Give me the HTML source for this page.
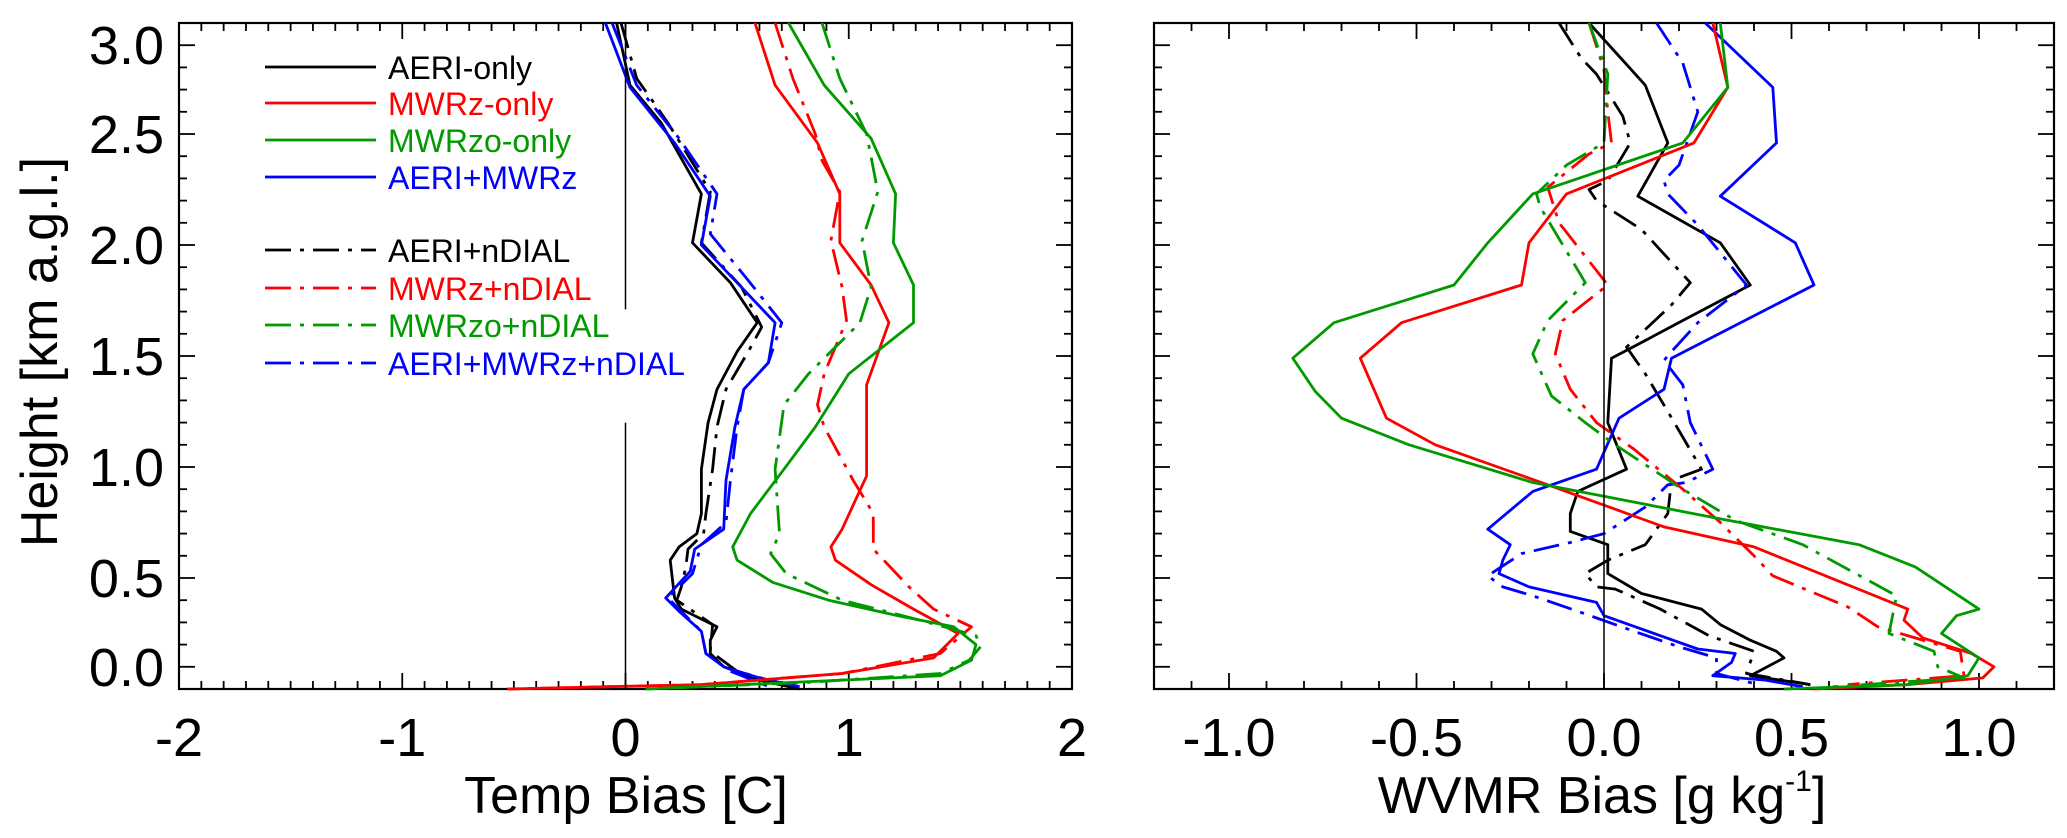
<!DOCTYPE html>
<html><head><meta charset="utf-8"><style>
html,body{margin:0;padding:0;background:#fff;}
svg{display:block;font-family:"Liberation Sans",Arial,sans-serif;}
</style></head><body>
<svg id="fig" width="2067" height="838" viewBox="0 0 2067 838" xmlns="http://www.w3.org/2000/svg"></svg>
<script>
// ---------- data (height km, bias) ----------
const hAeriT=[3.0,2.72,2.55,2.23,2.01,1.83,1.65,1.52,1.35,1.20,0.99,0.79,0.70,0.64,0.58,0.41,0.36,0.28,0.22,0.16,0.10,0.04,0.0];
const tAeri=[-0.04,0.02,0.16,0.34,0.30,0.47,0.59,0.50,0.41,0.37,0.34,0.34,0.32,0.24,0.20,0.22,0.25,0.41,0.38,0.38,0.44,0.60,0.78];
const hAeriDT=[3.0,2.75,2.55,2.24,2.01,1.81,1.63,1.52,1.35,1.18,0.99,0.79,0.70,0.63,0.55,0.46,0.40,0.29,0.17,0.08,0.0];
const tAeriD=[-0.02,0.05,0.19,0.38,0.34,0.52,0.61,0.55,0.45,0.41,0.39,0.36,0.35,0.28,0.27,0.25,0.23,0.39,0.38,0.50,0.78];
const hBlueT=[3.0,2.71,2.46,2.22,2.0,1.83,1.65,1.47,1.35,1.18,0.94,0.72,0.63,0.53,0.41,0.35,0.26,0.16,0.10,0.05,0.01];
const tBlue=[-0.09,0.02,0.22,0.38,0.34,0.50,0.67,0.64,0.53,0.49,0.45,0.44,0.31,0.29,0.18,0.24,0.34,0.36,0.44,0.60,0.78];
const hBlueDT=[3.0,2.72,2.48,2.23,2.05,1.84,1.65,1.47,1.35,1.18,0.94,0.75,0.65,0.52,0.41,0.26,0.16,0.08,0.0];
const tBlueD=[-0.06,0.05,0.24,0.41,0.38,0.55,0.70,0.64,0.53,0.50,0.47,0.45,0.34,0.30,0.19,0.34,0.36,0.47,0.67];
const hRedT=[3.0,2.72,2.46,2.23,2.01,1.82,1.65,1.37,0.96,0.72,0.64,0.58,0.47,0.36,0.25,0.14,0.07,0.02,0.0];
const tRed=[0.58,0.67,0.86,0.96,0.96,1.10,1.18,1.08,1.08,0.97,0.92,0.94,1.10,1.29,1.49,1.38,0.97,0.34,-0.53];
const hRedDT=[3.0,2.75,2.5,2.38,2.24,2.02,1.81,1.66,1.42,1.28,1.18,0.94,0.79,0.63,0.46,0.36,0.28,0.16,0.07,0.02,0.0];
const tRedD=[0.67,0.75,0.85,0.88,0.96,0.92,0.97,0.99,0.89,0.86,0.89,1.02,1.11,1.11,1.27,1.38,1.55,1.41,0.97,0.34,-0.53];
const hGrnT=[3.0,2.72,2.48,2.23,2.01,1.82,1.65,1.42,1.18,0.99,0.79,0.64,0.58,0.48,0.40,0.33,0.28,0.20,0.13,0.06,0.04,0.0];
const tGrn=[0.73,0.89,1.10,1.21,1.20,1.29,1.29,1.00,0.85,0.71,0.56,0.48,0.50,0.66,0.91,1.22,1.47,1.57,1.55,1.41,0.97,0.09];
const hGrnDT=[3.0,2.75,2.5,2.24,2.02,1.81,1.65,1.42,1.28,0.99,0.70,0.61,0.52,0.40,0.31,0.24,0.19,0.13,0.07,0.03,0.0];
const tGrnD=[0.88,0.96,1.08,1.13,1.06,1.10,1.05,0.82,0.71,0.67,0.69,0.65,0.72,0.97,1.32,1.57,1.59,1.54,1.41,0.82,0.09];

const hAeriW=[3.0,2.72,2.46,2.22,2.01,1.82,1.66,1.57,1.49,1.20,0.99,0.89,0.79,0.71,0.65,0.52,0.43,0.36,0.29,0.22,0.17,0.14,0.06,0.02];
const wAeri=[-0.04,0.11,0.17,0.09,0.31,0.39,0.21,0.11,0.02,0.01,0.06,-0.07,-0.09,-0.09,0.01,0.01,0.10,0.26,0.31,0.39,0.46,0.48,0.39,0.55];
const hAeriDW=[3.0,2.84,2.77,2.58,2.46,2.29,2.25,2.20,2.07,1.83,1.73,1.54,1.42,1.25,0.99,0.94,0.79,0.65,0.58,0.52,0.46,0.45,0.36,0.24,0.17,0.07,0.02];
const wAeriD=[-0.12,-0.06,-0.02,0.05,0.07,0.01,-0.04,-0.02,0.10,0.23,0.18,0.06,0.11,0.17,0.26,0.18,0.17,0.11,0.01,-0.05,-0.02,0.03,0.15,0.28,0.40,0.38,0.55];
const hBlueW=[3.0,2.71,2.46,2.22,2.01,1.82,1.49,1.35,1.22,0.99,0.89,0.72,0.65,0.58,0.52,0.46,0.39,0.33,0.18,0.16,0.12,0.06,0.04,0.01];
const wBlue=[0.27,0.45,0.46,0.31,0.51,0.56,0.18,0.16,0.04,-0.02,-0.19,-0.31,-0.25,-0.27,-0.28,-0.20,-0.02,0.0,0.25,0.35,0.34,0.29,0.43,0.53];
const hBlueDW=[3.0,2.82,2.60,2.36,2.29,2.23,2.09,1.82,1.65,1.52,1.48,1.37,1.20,0.99,0.93,0.92,0.82,0.70,0.66,0.61,0.51,0.46,0.42,0.35,0.26,0.19,0.14,0.07,0.02];
const wBlueD=[0.14,0.21,0.25,0.20,0.16,0.17,0.25,0.38,0.25,0.18,0.16,0.21,0.23,0.29,0.22,0.17,0.11,0.0,-0.09,-0.22,-0.31,-0.27,-0.19,-0.07,0.08,0.20,0.30,0.30,0.41];
const hRedW=[3.0,2.71,2.46,2.23,2.01,1.82,1.65,1.49,1.22,1.10,0.92,0.73,0.64,0.36,0.31,0.23,0.16,0.10,0.05,0.02,0.0];
const wRed=[0.29,0.33,0.24,-0.10,-0.20,-0.22,-0.54,-0.65,-0.58,-0.45,-0.15,0.16,0.40,0.81,0.80,0.85,0.98,1.04,1.01,0.81,0.56];
const hRedDW=[3.0,2.79,2.60,2.46,2.41,2.26,2.10,1.82,1.78,1.66,1.51,1.35,1.20,1.08,0.90,0.75,0.60,0.51,0.37,0.28,0.17,0.06,0.02];
const wRedD=[-0.04,0.0,0.01,0.02,-0.04,-0.15,-0.12,0.01,-0.02,-0.11,-0.13,-0.09,-0.02,0.08,0.21,0.31,0.40,0.45,0.65,0.73,0.95,0.96,0.65];
const hGrnW=[3.0,2.71,2.46,2.23,2.01,1.82,1.65,1.49,1.34,1.22,1.10,0.93,0.77,0.65,0.55,0.36,0.33,0.25,0.14,0.06,0.02,0.0];
const wGrn=[0.31,0.33,0.21,-0.19,-0.31,-0.40,-0.72,-0.83,-0.77,-0.70,-0.52,-0.19,0.30,0.68,0.83,1.0,0.94,0.90,1.0,0.97,0.81,0.48];
const hGrnDW=[3.0,2.77,2.46,2.36,2.23,2.17,1.83,1.66,1.51,1.32,1.20,1.10,0.91,0.76,0.65,0.42,0.25,0.17,0.10,0.05,0.01];
const wGrnD=[-0.04,0.01,0.0,-0.10,-0.18,-0.17,-0.05,-0.15,-0.19,-0.14,-0.05,0.03,0.20,0.35,0.53,0.78,0.76,0.88,0.89,0.96,0.61];

const tTickVals=[-2,-1,0,1,2];
const tTickLabels=['-2','-1','0','1','2'];
const wTickVals=[-1.0,-0.5,0.0,0.5,1.0];
const wTickLabels=['-1.0','-0.5','0.0','0.5','1.0'];
const hTickVals=[0.1,0.5,1.0,1.5,2.0,2.5,2.9];
const hTickLabels=['0.0','0.5','1.0','1.5','2.0','2.5','3.0'];
const legendLabels=['AERI-only','MWRz-only','MWRzo-only','AERI+MWRz','AERI+nDIAL','MWRz+nDIAL','MWRzo+nDIAL','AERI+MWRz+nDIAL'];

// ---------- layout ----------
const NS='http://www.w3.org/2000/svg';
const svg=document.getElementById('fig');
const TOP=23,BOT=689;
const yS=h=>BOT-(h/3)*(BOT-TOP);
const L={x0:179,x1:1072,min:-2,max:2};
const R={x0:1154,x1:2054,min:-1.2,max:1.2};
const xS=(p,v)=>p.x0+(v-p.min)/(p.max-p.min)*(p.x1-p.x0);
const COL={k:'#000',r:'#ff0000',g:'#009a00',b:'#0000ff'};
const DASH='26 9 4 9';
function el(tag,attrs,parent){const e=document.createElementNS(NS,tag);for(const k in attrs)e.setAttribute(k,attrs[k]);(parent||svg).appendChild(e);return e;}

function curve(p,vals,hs,color,dashed,name,g){
  const d=vals.map((v,i)=>(i?'L':'M')+xS(p,v).toFixed(1)+','+yS(hs[i]).toFixed(1)).join('');
  const e=el('path',{d:d,fill:'none',stroke:color,'stroke-width':2.8,'stroke-linejoin':'round'},g);
  if(dashed)e.setAttribute('stroke-dasharray',DASH);
  
  
}

function axes(p,tv,tl,panel,showY){
  const g=el('g',{});
  
  
  const n=Math.round((p.max-p.min)*10);
  for(let i=0;i<=n;i++){
    const v=p.min+i/10;const x=xS(p,v);
    const major=tv.some(t=>Math.abs(t-v)<1e-6);
    const len=major?16:8;
    el('line',{x1:x,x2:x,y1:BOT,y2:BOT-len,stroke:'#000','stroke-width':1.8},g);
    el('line',{x1:x,x2:x,y1:TOP,y2:TOP+len,stroke:'#000','stroke-width':1.8},g);
  }
  for(let i=0;i<=30;i++){
    const y=TOP+i*(BOT-TOP)/30;
    const major=hTickVals.some(t=>Math.abs(yS(t)-y)<1);
    const len=major?16:8;
    el('line',{x1:p.x0,x2:p.x0+len,y1:y,y2:y,stroke:'#000','stroke-width':1.8},g);
    el('line',{x1:p.x1,x2:p.x1-len,y1:y,y2:y,stroke:'#000','stroke-width':1.8},g);
  }
  el('rect',{x:p.x0,y:TOP,width:p.x1-p.x0,height:BOT-TOP,fill:'none',stroke:'#000','stroke-width':2.2},g);
  tv.forEach((v,i)=>{
    const t=el('text',{x:xS(p,v),y:756,'font-size':54,'text-anchor':'middle'},g);
    t.textContent=tl[i];
    
    
  });
  if(showY){
    hTickVals.forEach((v,i)=>{
      const t=el('text',{x:164,y:yS(v)+19,'font-size':54,'text-anchor':'end'},g);
      t.textContent=hTickLabels[i];
      
      
    });
  }
  return g;
}

const gL=axes(L,tTickVals,tTickLabels,'temp',true);
const gR=axes(R,wTickVals,wTickLabels,'wvmr',false);

const z1=el('line',{x1:xS(L,0),x2:xS(L,0),y1:TOP,y2:yS(1.71),stroke:'#000','stroke-width':1.5});

const z2=el('line',{x1:xS(L,0),x2:xS(L,0),y1:yS(1.2),y2:BOT,stroke:'#000','stroke-width':1.5});

const z3=el('line',{x1:xS(R,0),x2:xS(R,0),y1:TOP,y2:BOT,stroke:'#000','stroke-width':1.5});


curve(L,tAeri,hAeriT,COL.k,false,'temp-aeri-only',gL);
curve(L,tAeriD,hAeriDT,COL.k,true,'temp-aeri-ndial',gL);
curve(L,tBlue,hBlueT,COL.b,false,'temp-aeri-mwrz',gL);
curve(L,tBlueD,hBlueDT,COL.b,true,'temp-aeri-mwrz-ndial',gL);
curve(L,tRed,hRedT,COL.r,false,'temp-mwrz-only',gL);
curve(L,tRedD,hRedDT,COL.r,true,'temp-mwrz-ndial',gL);
curve(L,tGrn,hGrnT,COL.g,false,'temp-mwrzo-only',gL);
curve(L,tGrnD,hGrnDT,COL.g,true,'temp-mwrzo-ndial',gL);

curve(R,wAeri,hAeriW,COL.k,false,'wvmr-aeri-only',gR);
curve(R,wAeriD,hAeriDW,COL.k,true,'wvmr-aeri-ndial',gR);
curve(R,wBlue,hBlueW,COL.b,false,'wvmr-aeri-mwrz',gR);
curve(R,wBlueD,hBlueDW,COL.b,true,'wvmr-aeri-mwrz-ndial',gR);
curve(R,wRed,hRedW,COL.r,false,'wvmr-mwrz-only',gR);
curve(R,wRedD,hRedDW,COL.r,true,'wvmr-mwrz-ndial',gR);
curve(R,wGrn,hGrnW,COL.g,false,'wvmr-mwrzo-only',gR);
curve(R,wGrnD,hGrnDW,COL.g,true,'wvmr-mwrzo-ndial',gR);

const legCols=[COL.k,COL.r,COL.g,COL.b,COL.k,COL.r,COL.g,COL.b];
const legY=[67,103,140,177,250,288,325,363];
const lg=el('g',{});


legendLabels.forEach((lab,i)=>{
  const ln=el('line',{x1:265,x2:376,y1:legY[i],y2:legY[i],stroke:legCols[i],'stroke-width':2.8},lg);
  if(i>=4)ln.setAttribute('stroke-dasharray',DASH);
  
  
  const t=el('text',{x:388,y:legY[i]+12,'font-size':32,fill:legCols[i]},lg);
  t.textContent=lab;
  
  
});

const yt=el('text',{x:0,y:0,'font-size':52,'text-anchor':'middle',transform:'translate(57,352) rotate(-90)'});
yt.textContent='Height [km a.g.l.]';

const xt=el('text',{x:626,y:813,'font-size':52,'text-anchor':'middle'});
xt.textContent='Temp Bias [C]';

const xt2=el('text',{x:1602,y:813,'font-size':52,'text-anchor':'middle'});

xt2.appendChild(document.createTextNode('WVMR Bias [g kg'));
const sup=el('tspan',{'font-size':30,dy:-22},xt2);sup.textContent='-1';
const rest=el('tspan',{dy:22},xt2);rest.textContent=']';
</script>
</body></html>
